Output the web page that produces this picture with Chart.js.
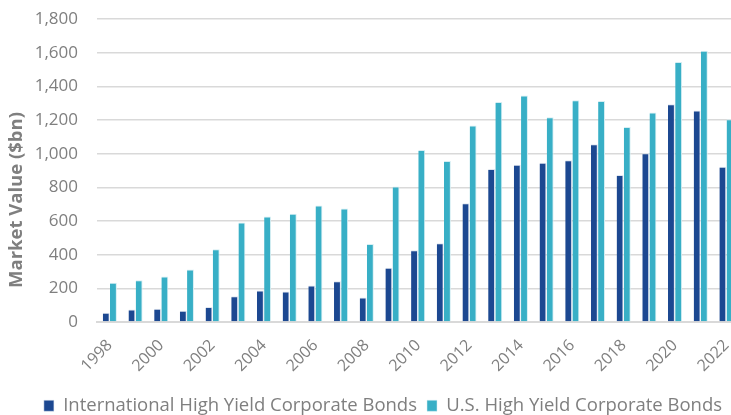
<!DOCTYPE html>
<html>
<head>
<meta charset="utf-8">
<script src="https://cdn.jsdelivr.net/npm/chart.js@4/dist/chart.umd.min.js"></script>
<style>
  html, body { margin: 0; padding: 0; background: #fff; overflow: hidden; }
  #wrap { width: 746px; height: 425px; position: relative; top: -10px; }
</style>
</head>
<body>
<div id="wrap"><canvas id="hy"></canvas></div>
<script>
var years = ["1998", "1999", "2000", "2001", "2002", "2003", "2004", "2005", "2006", "2007",
  "2008", "2009", "2010", "2011", "2012", "2013", "2014", "2015", "2016", "2017",
  "2018", "2019", "2020", "2021", "2022"];

// market value in $bn
var intlHY = [55, 75, 79, 67, 89, 154, 187, 181, 217, 243,
  146, 323, 426, 469, 706, 909, 935, 947, 962, 1057,
  874, 1004, 1294, 1258, 923];
var usHY = [233, 249, 270, 312, 432, 592, 627, 643, 692, 675,
  464, 805, 1022, 957, 1168, 1308, 1347, 1217, 1318, 1314,
  1160, 1245, 1546, 1613, 1205];

var grey = '#7f7f7f';

// y title sits lower than the plot centre in the original, so draw it by hand
// (wrap is shifted up 10px, hence 210)
var yTitle = {
  id: 'yTitle',
  afterDraw: function (chart) {
    var c = chart.ctx;
    c.save();
    c.translate(17, 210);
    c.rotate(-Math.PI / 2);
    c.fillStyle = grey;
    c.font = 'bold 18.5px "Open Sans"';
    c.textAlign = 'center';
    c.textBaseline = 'middle';
    c.fillText('Market Value ($bn)', 0, 0);
    c.restore();
  }
};

var ctx = document.getElementById("hy").getContext('2d');
var myChart = new Chart(ctx, {
  type: 'bar',
  data: {
    labels: years,
    datasets: [{
      label: 'International High Yield Corporate Bonds',
      data: intlHY,
      backgroundColor: '#1c4891',
      borderColor: '#dfe6f0',
      borderWidth: { left: 0, right: 1, top: 1, bottom: 0 },
      categoryPercentage: 0.56,
      barPercentage: 0.96
    }, {
      label: 'U.S. High Yield Corporate Bonds',
      data: usHY,
      backgroundColor: '#38afc6',
      borderColor: '#d5eef3',
      borderWidth: { left: 0, right: 1, top: 1, bottom: 0 },
      categoryPercentage: 0.56,
      barPercentage: 0.96
    }]
  },
  options: {
    responsive: true,
    maintainAspectRatio: false,
    animation: false,
    layout: { padding: { top: 0, left: 20, right: 0, bottom: -10 } },
    plugins: {
      tooltip: { enabled: false },
      legend: {
        position: 'bottom',
        labels: {
          color: grey,
          font: { family: 'Open Sans', size: 18.5 },
          boxWidth: 10,
          boxHeight: 11,
          padding: 10
        }
      }
    },
    scales: {
      x: {
        grid: { display: false },
        border: { color: '#d9d9d9', width: 2 },
        afterFit: function (s) { s.height += 5; },
        ticks: {
          color: grey,
          font: { family: 'Open Sans', size: 16 },
          autoSkip: false,
          maxRotation: 45,
          minRotation: 45,
          padding: 6,
          callback: function (val, i) { return i % 2 === 0 ? years[i] : ''; }
        }
      },
      y: {
        min: 0,
        max: 1800,
        afterFit: function (s) { s.width = 77; },
        grid: { color: '#d9d9d9', lineWidth: 1.5, drawTicks: false },
        border: { display: false },
        ticks: {
          stepSize: 200,
          color: grey,
          padding: 19,
          font: { family: 'Open Sans', size: 17 },
          callback: function (v) { return v.toLocaleString('en-US'); }
        }
      }
    }
  },
  plugins: [yTitle]
});
</script>
</body>
</html>
